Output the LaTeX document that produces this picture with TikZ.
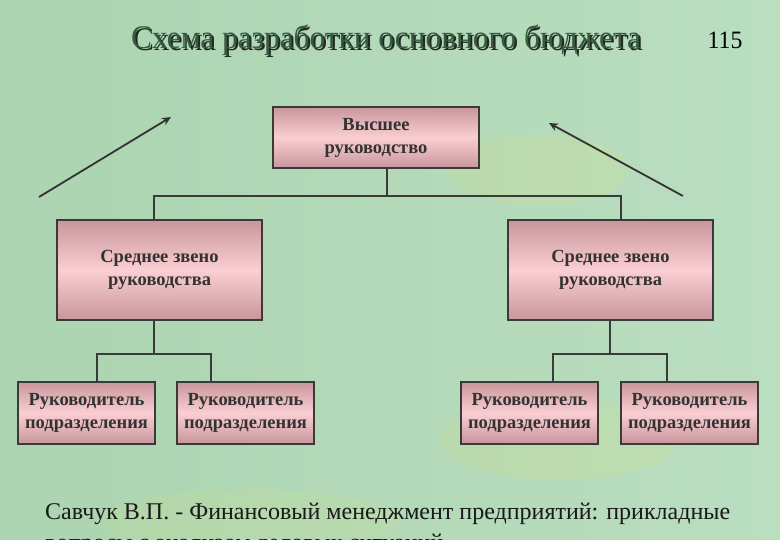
\documentclass[tikz,border=0pt]{standalone}
\usepackage{fontspec}
\setmainfont{Liberation Serif}
\newfontfamily\titleserif[FakeStretch=0.95]{Liberation Serif}
\usetikzlibrary{arrows.meta,positioning,shapes}

\definecolor{bgleft}{RGB}{172,212,176}
\definecolor{bgright}{RGB}{186,222,192}
\definecolor{boxedge}{RGB}{58,58,58}
\definecolor{boxdark}{RGB}{200,150,156}
\definecolor{boxlight}{RGB}{250,206,210}
\definecolor{titlegreen}{RGB}{52,92,62}

\tikzset{
  unit/.style={draw=boxedge, line width=1.6pt, top color=boxdark, bottom color=boxdark,
    middle color=boxlight, align=center, font=\bfseries\fontsize{18.5}{23}\selectfont,
    text=black!80, inner sep=0pt},
  link/.style={draw=boxedge, line width=1.8pt},
  arr/.style={draw=black!80, line width=1.8pt, -{Stealth[length=9pt,width=8pt]}}
}

\begin{document}
\begin{tikzpicture}[x=1pt,y=-1pt]
    % background
    \useasboundingbox (0,0) rectangle (780,540);
    \clip (0,0) rectangle (780,540);
    \shade[left color=bgleft, right color=bgright] (0,0) rectangle (780,540);
    \fill[yellow!50!bgright, opacity=0.15] (540,170) ellipse (90 and 35);
    \fill[yellow!50!bgright, opacity=0.15] (560,440) ellipse (120 and 40);
    \fill[yellow!50!bgright, opacity=0.12] (250,520) ellipse (150 and 30);

    % title
    \node[text=black!85, font=\titleserif\fontsize{33}{38}\selectfont] at (388,42) {Схема разработки основного бюджета};
    \node[text=titlegreen, font=\titleserif\fontsize{33}{38}\selectfont] (title) at (386,40) {Схема разработки основного бюджета};
    \node[font=\titleserif\fontsize{25}{28}\selectfont] (page) at (725,40) {115};

    % boxes
    \node[unit, minimum width=206, minimum height=61] (top) at (376,137.5) {Высшее\\руководство};
    \node[unit, minimum width=205, minimum height=100] (midL) at (159.5,270) {Среднее звено\\руководства};
    \node[unit, minimum width=205, minimum height=100] (midR) at (610.5,270) {Среднее звено\\руководства};
    \node[unit, minimum width=137, minimum height=62] (bot1) at (86.5,413) {Руководитель\\подразделения};
    \node[unit, minimum width=137, minimum height=62] (bot2) at (245.5,413) {Руководитель\\подразделения};
    \node[unit, minimum width=137, minimum height=62] (bot3) at (529.5,413) {Руководитель\\подразделения};
    \node[unit, minimum width=137, minimum height=62] (bot4) at (689.5,413) {Руководитель\\подразделения};

    % connectors
    \coordinate (busC) at (387,196);
    \coordinate (busL) at (154,196);
    \coordinate (busR) at (621,196);
    \draw[link] (top.south -| busC) -- (busC);
    \draw[link] (midL.north -| busL) -- (busL) -- (busR) -- (midR.north -| busR);

    \coordinate (lbC) at (154,354);
    \coordinate (lbL) at (97,354);
    \coordinate (lbR) at (211,354);
    \draw[link] (midL.south -| lbC) -- (lbC);
    \draw[link] (bot1.north -| lbL) -- (lbL) -- (lbR) -- (bot2.north -| lbR);

    \coordinate (rbC) at (610,354);
    \coordinate (rbL) at (553,354);
    \coordinate (rbR) at (667,354);
    \draw[link] (midR.south -| rbC) -- (rbC);
    \draw[link] (bot3.north -| rbL) -- (rbL) -- (rbR) -- (bot4.north -| rbR);

    % arrows
    \coordinate (arrLfrom) at (39,197);
    \coordinate (arrLto) at (171,117);
    \coordinate (arrRfrom) at (683,196);
    \coordinate (arrRto) at (549,123);
    \draw[arr] (arrLfrom) -- (arrLto);
    \draw[arr] (arrRfrom) -- (arrRto);

    % source
    \node[anchor=north west, align=left, text=black!90, inner sep=0pt,
          font=\fontsize{24}{31}\selectfont] (source) at (45,503)
      {Савчук В.П. - Финансовый менеджмент предприятий: прикладные\\
       вопросы с анализом деловых ситуаций};
\end{tikzpicture}
\end{document}
